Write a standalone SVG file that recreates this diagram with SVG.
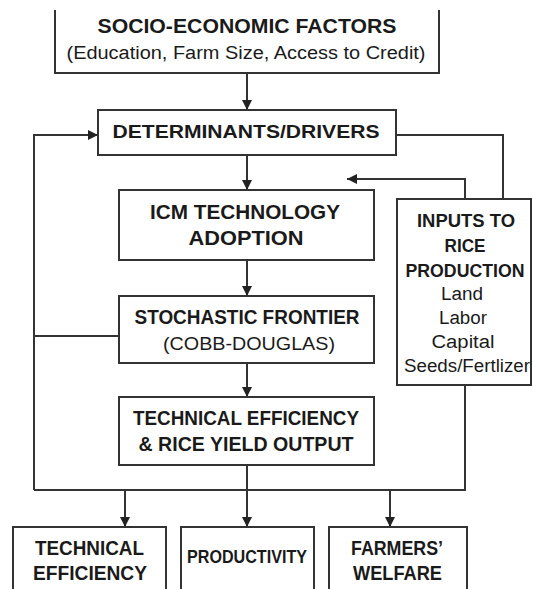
<svg xmlns="http://www.w3.org/2000/svg" width="533" height="589" viewBox="0 0 533 589">
<style>
.box{fill:#fff;stroke:#333;stroke-width:2}
.conn{fill:none;stroke:#333;stroke-width:2}
.arr{marker-end:url(#ah)}
text{font-family:"Liberation Sans",Arial,sans-serif;fill:#1a1a1a;text-anchor:middle}
.b{font-weight:bold}
.r{font-weight:normal}
</style>
<defs>
<marker id="ah" markerWidth="10" markerHeight="10" refX="10" refY="5" orient="auto" markerUnits="userSpaceOnUse">
<path d="M0,0 L10,5 L0,10 z" fill="#222"/>
</marker>
</defs>
<rect width="533" height="589" fill="#fff"/>
<g id="connectors">
<path class="conn arr" d="M247,73 V110"/>
<path class="conn arr" d="M247,155 V190"/>
<path class="conn arr" d="M247,260 V296"/>
<path class="conn arr" d="M247,363 V397"/>
<path class="conn arr" d="M34,490 V135 H98"/>
<path class="conn" d="M34,336 H119"/>
<path class="conn" d="M396,135 H503 V199"/>
<path class="conn arr" d="M465,199 V179 H347"/>
<path class="conn" d="M465,385 V490 H34"/>
<path class="conn" d="M247,465 V490"/>
<path class="conn arr" d="M125,490 V527"/>
<path class="conn arr" d="M247,490 V527"/>
<path class="conn arr" d="M390,490 V527"/>
</g>
<g id="socio">
<path class="box" d="M55,10 V73 H439 V10"/>
<text class="b" x="247" y="33" font-size="21" textLength="299" lengthAdjust="spacingAndGlyphs">SOCIO-ECONOMIC FACTORS</text>
<text class="r" x="246" y="59" font-size="18" textLength="359" lengthAdjust="spacingAndGlyphs">(Education, Farm Size, Access to Credit)</text>
</g>
<g id="determinants">
<rect class="box" x="98" y="110" width="298" height="45"/>
<text class="b" x="246" y="138" font-size="19" textLength="267" lengthAdjust="spacingAndGlyphs">DETERMINANTS/DRIVERS</text>
</g>
<g id="icm">
<rect class="box" x="119" y="190" width="255" height="70"/>
<text class="b" x="245" y="219" font-size="20" textLength="190" lengthAdjust="spacingAndGlyphs">ICM TECHNOLOGY</text>
<text class="b" x="246" y="245" font-size="20" textLength="115" lengthAdjust="spacingAndGlyphs">ADOPTION</text>
</g>
<g id="stochastic">
<rect class="box" x="119" y="296" width="255" height="67"/>
<text class="b" x="247" y="324" font-size="20" textLength="225" lengthAdjust="spacingAndGlyphs">STOCHASTIC FRONTIER</text>
<text class="r" x="249" y="350" font-size="19" textLength="172" lengthAdjust="spacingAndGlyphs">(COBB-DOUGLAS)</text>
</g>
<g id="te-output">
<rect class="box" x="119" y="397" width="255" height="68"/>
<text class="b" x="246" y="425" font-size="20" textLength="226" lengthAdjust="spacingAndGlyphs">TECHNICAL EFFICIENCY</text>
<text class="b" x="246" y="451" font-size="20" textLength="215" lengthAdjust="spacingAndGlyphs">&amp; RICE YIELD OUTPUT</text>
</g>
<g id="inputs">
<rect class="box" x="397" y="199" width="134" height="186"/>
<text class="b" x="466" y="227" font-size="18" textLength="98" lengthAdjust="spacingAndGlyphs">INPUTS TO</text>
<text class="b" x="465" y="252" font-size="18" textLength="41" lengthAdjust="spacingAndGlyphs">RICE</text>
<text class="b" x="465" y="277" font-size="18" textLength="119" lengthAdjust="spacingAndGlyphs">PRODUCTION</text>
<text class="r" x="462" y="300" font-size="18" textLength="42" lengthAdjust="spacingAndGlyphs">Land</text>
<text class="r" x="463" y="324" font-size="18" textLength="48" lengthAdjust="spacingAndGlyphs">Labor</text>
<text class="r" x="463" y="348" font-size="18" textLength="63" lengthAdjust="spacingAndGlyphs">Capital</text>
<text class="r" x="467" y="372" font-size="18" textLength="126" lengthAdjust="spacingAndGlyphs">Seeds/Fertlizer</text>
</g>
<g id="technical-efficiency">
<rect class="box" x="13" y="527" width="153" height="80"/>
<text class="b" x="89.5" y="555" font-size="20" textLength="109" lengthAdjust="spacingAndGlyphs">TECHNICAL</text>
<text class="b" x="90" y="580" font-size="20" textLength="114" lengthAdjust="spacingAndGlyphs">EFFICIENCY</text>
</g>
<g id="productivity">
<rect class="box" x="181" y="527" width="133" height="80"/>
<text class="b" x="247" y="563" font-size="18.5" textLength="120" lengthAdjust="spacingAndGlyphs">PRODUCTIVITY</text>
</g>
<g id="farmers-welfare">
<rect class="box" x="329" y="527" width="138" height="80"/>
<text class="b" x="397" y="555" font-size="20" textLength="92" lengthAdjust="spacingAndGlyphs">FARMERS’</text>
<text class="b" x="397.5" y="580" font-size="20" textLength="89" lengthAdjust="spacingAndGlyphs">WELFARE</text>
</g>
</svg>
